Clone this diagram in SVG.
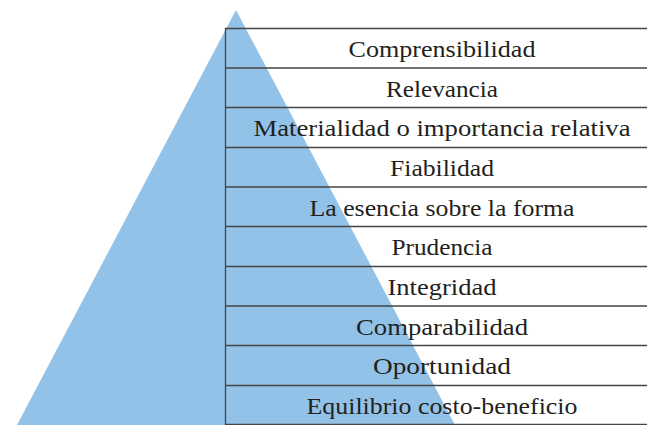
<svg xmlns="http://www.w3.org/2000/svg" width="647" height="425" viewBox="0 0 647 425">
<style>
.ln{stroke:#454545;stroke-width:1.3;fill:none}
.t{font-family:"Liberation Serif","DejaVu Serif",serif;font-size:23px;fill:#231f20;text-anchor:middle}
</style>
<rect width="647" height="425" fill="#ffffff"/>
<g id="pyramid"><polygon points="236,10 17,425 455,425" fill="#93c2e8"/></g>
<g id="connectors">
<line class="ln" x1="225.5" y1="28" x2="225.5" y2="425"/>
<line class="ln" x1="225" y1="28.5" x2="647" y2="28.5"/>
<line class="ln" x1="225" y1="68" x2="647" y2="68"/>
<line class="ln" x1="225" y1="107.5" x2="647" y2="107.5"/>
<line class="ln" x1="225" y1="147.5" x2="647" y2="147.5"/>
<line class="ln" x1="225" y1="187" x2="647" y2="187"/>
<line class="ln" x1="225" y1="226.5" x2="647" y2="226.5"/>
<line class="ln" x1="225" y1="266.5" x2="647" y2="266.5"/>
<line class="ln" x1="225" y1="306" x2="647" y2="306"/>
<line class="ln" x1="225" y1="345.5" x2="647" y2="345.5"/>
<line class="ln" x1="225" y1="385.5" x2="647" y2="385.5"/>
<line class="ln" x1="225" y1="424.5" x2="647" y2="424.5"/>
</g>
<g id="n1"><text class="t" x="442" y="57" textLength="187" lengthAdjust="spacingAndGlyphs">Comprensibilidad</text></g>
<g id="n2"><text class="t" x="442" y="96.5" textLength="112" lengthAdjust="spacingAndGlyphs">Relevancia</text></g>
<g id="n3"><text class="t" x="442" y="136" textLength="377" lengthAdjust="spacingAndGlyphs">Materialidad o importancia relativa</text></g>
<g id="n4"><text class="t" x="442" y="176" textLength="104" lengthAdjust="spacingAndGlyphs">Fiabilidad</text></g>
<g id="n5"><text class="t" x="442" y="215.5" textLength="265" lengthAdjust="spacingAndGlyphs">La esencia sobre la forma</text></g>
<g id="n6"><text class="t" x="442" y="255" textLength="101" lengthAdjust="spacingAndGlyphs">Prudencia</text></g>
<g id="n7"><text class="t" x="442" y="295" textLength="109" lengthAdjust="spacingAndGlyphs">Integridad</text></g>
<g id="n8"><text class="t" x="442" y="334.5" textLength="172" lengthAdjust="spacingAndGlyphs">Comparabilidad</text></g>
<g id="n9"><text class="t" x="442" y="374" textLength="138" lengthAdjust="spacingAndGlyphs">Oportunidad</text></g>
<g id="n10"><text class="t" x="442" y="414" textLength="271" lengthAdjust="spacingAndGlyphs">Equilibrio costo-beneficio</text></g>
</svg>
